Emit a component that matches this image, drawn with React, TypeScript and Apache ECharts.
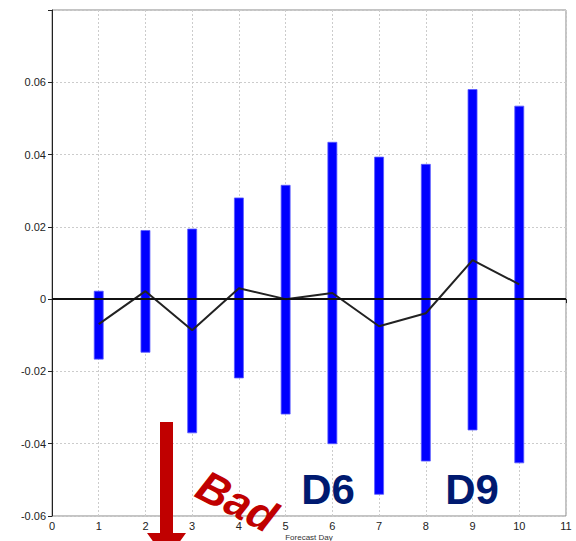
import React, { useEffect, useRef } from "react";
import * as echarts from "echarts";

const days = [1, 2, 3, 4, 5, 6, 7, 8, 9, 10];
const highs = [0.0022, 0.019, 0.0194, 0.028, 0.0315, 0.0434, 0.0393, 0.0373, 0.058, 0.0534];
const lows = [-0.0166, -0.0147, -0.037, -0.0218, -0.0318, -0.040, -0.054, -0.0448, -0.0362, -0.0453];
const means = [-0.0069, 0.0022, -0.0086, 0.003, 0.0, 0.0017, -0.0075, -0.0039, 0.0108, 0.0041];
const xTicks = [0, 1, 2, 3, 4, 5, 6, 7, 8, 9, 10, 11];

export default function App() {
  const ref = useRef<HTMLDivElement>(null);
  useEffect(() => {
    if (!ref.current) return;
    const chart = echarts.init(ref.current, undefined, { renderer: "svg" });
    const rangeData = days.map((d, i) => [d, lows[i], highs[i]]);
    chart.setOption({
      animation: false,
      grid: {
        left: 52, right: 10, top: 10, bottom: 25,
        show: true, borderColor: "#888", borderWidth: 1,
        containLabel: false, outerBoundsMode: "none",
      },
      xAxis: {
        type: "value",
        min: 0,
        max: 11,
        interval: 1,
        name: "Forecast Day",
        nameLocation: "middle",
        nameGap: 17,
        nameMoveOverlap: false,
        nameTextStyle: { fontSize: 8, color: "#333", fontFamily: "Liberation Sans", lineHeight: 8 },
        axisLine: { show: true, lineStyle: { color: "#222", width: 1 } },
        axisTick: { show: true, length: 4, lineStyle: { color: "#222" } },
        axisLabel: { fontSize: 11, color: "#222", margin: 4, fontFamily: "Liberation Sans",
          formatter: (v: number) => (xTicks.includes(v) ? String(v) : "") },
        splitLine: { show: true, lineStyle: { color: "#ccc", type: [2, 2] } },
      },
      yAxis: {
        type: "value",
        min: -0.06,
        max: 0.08,
        interval: 0.02,
        axisLine: { show: true, onZero: false, lineStyle: { color: "#222", width: 1 } },
        axisTick: { show: true, length: 4, lineStyle: { color: "#222" } },
        axisLabel: {
          fontSize: 11, color: "#222", margin: 6, fontFamily: "Liberation Sans",
          formatter: (v: number) => {
            const r = Math.round(v * 100) / 100;
            if (r > 0.07) return "";
            if (r === 0) return "0";
            return r.toFixed(2);
          },
        },
        splitLine: { show: true, lineStyle: { color: "#ccc", type: [2, 2] } },
      },
      series: [
        {
          type: "custom",
          data: rangeData,
          z: 3,
          renderItem: (params: any, api: any) => {
            const x = api.value(0);
            const lo = api.coord([x, api.value(1)]);
            const hi = api.coord([x, api.value(2)]);
            const w = 9;
            return {
              type: "rect",
              shape: { x: lo[0] - w / 2, y: hi[1], width: w, height: lo[1] - hi[1] },
              style: { fill: "#0000ff", stroke: "#5a5aff", lineWidth: 0.8 },
            };
          },
        },
        {
          type: "line",
          data: days.map((d, i) => [d, means[i]]),
          symbol: "none",
          z: 4,
          lineStyle: { color: "#222", width: 2 },
          markLine: {
            silent: true,
            symbol: "none",
            label: { show: false },
            lineStyle: { color: "#111", width: 2, type: "solid" },
            data: [{ yAxis: 0 }],
          },
        },
      ],
      graphic: [
        {
          type: "polygon",
          z: 10,
          shape: {
            points: [
              [160, 422], [173, 422], [173, 533], [186, 533], [166.5, 560], [147, 533], [160, 533],
            ],
          },
          style: { fill: "#c00000" },
        },
        {
          type: "text",
          z: 10,
          x: 237,
          y: 501,
          rotation: (-27 * Math.PI) / 180,
          style: {
            text: "Bad",
            font: "italic bold 44px 'Liberation Sans'",
            fill: "#c00000",
            align: "center",
            verticalAlign: "middle",
          },
        },
        {
          type: "text",
          z: 10,
          x: 328,
          y: 489,
          style: {
            text: "D6",
            font: "bold 42px 'Liberation Sans'",
            fill: "#001a70",
            align: "center",
            verticalAlign: "middle",
          },
        },
        {
          type: "text",
          z: 10,
          x: 472,
          y: 489,
          style: {
            text: "D9",
            font: "bold 42px 'Liberation Sans'",
            fill: "#001a70",
            align: "center",
            verticalAlign: "middle",
          },
        },
      ],
    });
    return () => chart.dispose();
  }, []);
  return <div ref={ref} style={{ width: 576, height: 541, position: "absolute", left: 0, top: 0, background: "#fff" }} />;
}
